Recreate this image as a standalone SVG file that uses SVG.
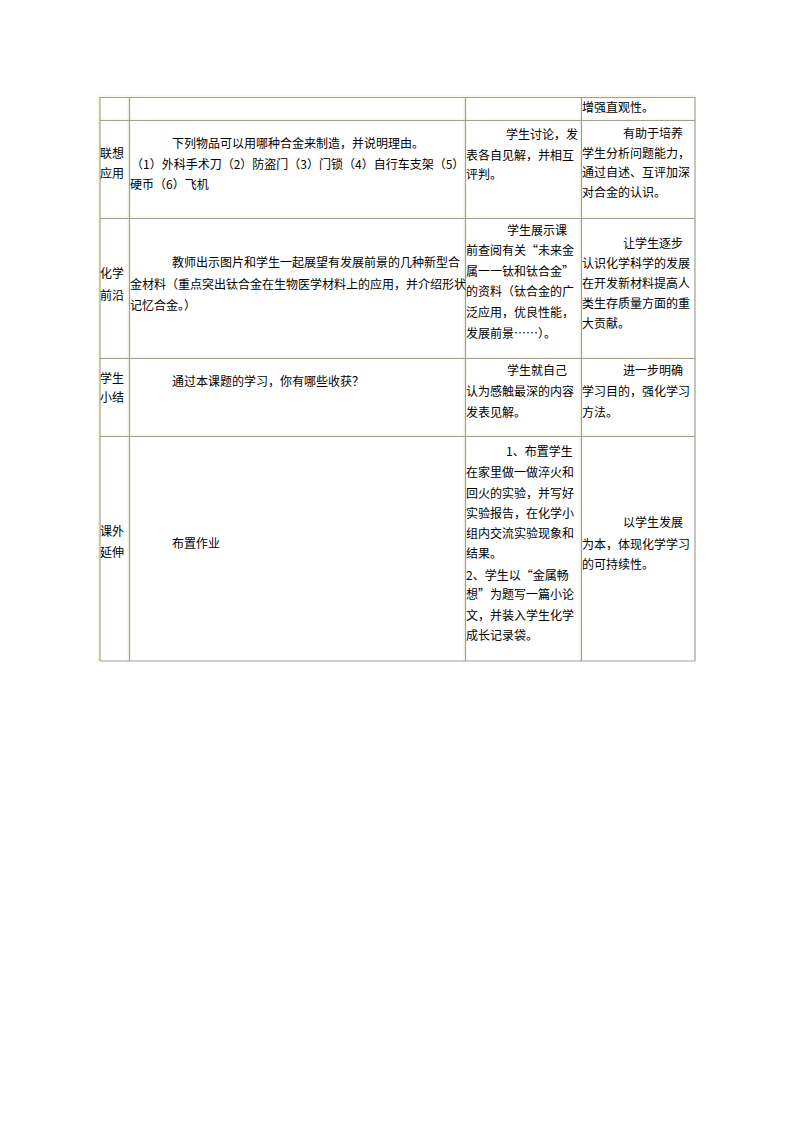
<svg xmlns="http://www.w3.org/2000/svg" width="794" height="1123" viewBox="0 0 794 1123">
<style>
text{font-family:"Noto Sans CJK SC","Noto Sans CJK JP",sans-serif;font-size:12px;fill:#000}
.g{stroke:#a09e96;stroke-width:1.2;fill:none}
.y{stroke:#f6f6d6;stroke-width:1;fill:none}
</style>
<rect width="794" height="1123" fill="#fff"/>
<g id="grid">
<path class="y" d="M99 96H696M98.5 97V662M99 119H696M99 217H696M99 357H696M99 435H696M128 97V662M464 97V662M580 97V662"/>
<path class="g" d="M100 97.5H695M100 120.5H695M100 218.5H695M100 358.5H695M100 436.5H695M100 661H695M100 97V661M129.5 97V661M465.5 97V661M581.5 97V661M695 97V661"/>
</g>
<g id="row1">
<text x="582" y="111.5">增强直观性。</text>
</g>
<g id="row2">
<text x="100" y="157.5">联想</text>
<text x="100" y="177.5">应用</text>
<text x="172" y="147.5">下列物品可以用哪种合金来制造，并说明理由。</text>
<text x="131" y="169">（1）外科手术刀（2）防盗门（3）门锁（4）自行车支架（5）</text>
<text x="130" y="189">硬币（6）飞机</text>
<text x="506" y="139">学生讨论，发</text>
<text x="466" y="160">表各自见解，并相互</text>
<text x="466" y="179">评判。</text>
<text x="623" y="138">有助于培养</text>
<text x="582" y="157.5">学生分析问题能力，</text>
<text x="582" y="177">通过自述、互评加深</text>
<text x="582" y="196.5">对合金的认识。</text>
</g>
<g id="row3">
<text x="100" y="278">化学</text>
<text x="100" y="299.5">前沿</text>
<text x="172" y="267">教师出示图片和学生一起展望有发展前景的几种新型合</text>
<text x="130" y="289">金材料（重点突出钛合金在生物医学材料上的应用，并介绍形状</text>
<text x="130" y="309.5">记忆合金。）</text>
<text x="507" y="234.5">学生展示课</text>
<text x="466" y="255">前查阅有关“未来金</text>
<text x="466" y="275.5">属一一钛和钛合金”</text>
<text x="466" y="296">的资料（钛合金的广</text>
<text x="466" y="316.5">泛应用，优良性能，</text>
<text x="466" y="337.5">发展前景……）。</text>
<text x="623" y="248">让学生逐步</text>
<text x="582" y="268">认识化学科学的发展</text>
<text x="582" y="288">在开发新材料提高人</text>
<text x="582" y="308">类生存质量方面的重</text>
<text x="582" y="328">大贡献。</text>
</g>
<g id="row4">
<text x="100" y="383">学生</text>
<text x="100" y="402">小结</text>
<text x="172" y="386">通过本课题的学习，你有哪些收获？</text>
<text x="507" y="374.5">学生就自己</text>
<text x="466" y="395.5">认为感触最深的内容</text>
<text x="466" y="417">发表见解。</text>
<text x="623" y="374.5">进一步明确</text>
<text x="582" y="395.5">学习目的，强化学习</text>
<text x="582" y="417">方法。</text>
</g>
<g id="row5">
<text x="100" y="536">课外</text>
<text x="100" y="557">延伸</text>
<text x="172" y="548">布置作业</text>
<text x="506" y="456">1、布置学生</text>
<text x="466" y="477">在家里做一做淬火和</text>
<text x="466" y="498">回火的实验，并写好</text>
<text x="466" y="518">实验报告，在化学小</text>
<text x="466" y="538">组内交流实验现象和</text>
<text x="466" y="558">结果。</text>
<text x="466" y="579.5">2、学生以“金属畅</text>
<text x="466" y="599">想”为题写一篇小论</text>
<text x="466" y="619.5">文，并装入学生化学</text>
<text x="466" y="639.5">成长记录袋。</text>
<text x="623" y="527">以学生发展</text>
<text x="582" y="548.5">为本，体现化学学习</text>
<text x="582" y="569">的可持续性。</text>
</g>
</svg>
